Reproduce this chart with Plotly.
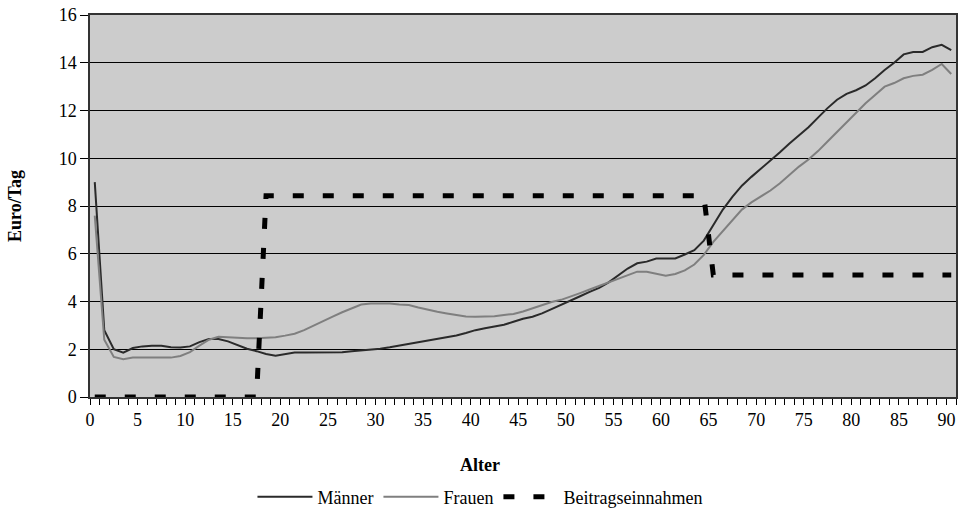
import plotly.graph_objects as go

ages = list(range(0, 91))

maenner = [9.0, 2.8, 2.0, 1.86, 2.05, 2.12, 2.15, 2.15, 2.08, 2.07,
           2.12, 2.3, 2.43, 2.43, 2.33, 2.18, 2.02, 1.92, 1.8, 1.73,
           1.8, 1.86, 1.86, 1.86, 1.86, 1.86, 1.87, 1.92, 1.95, 2.0,
           2.02, 2.08, 2.15, 2.22, 2.3, 2.37, 2.42, 2.5, 2.58, 2.68,
           2.8, 2.88, 2.95, 3.03, 3.15, 3.28, 3.36, 3.5, 3.68, 3.87,
           4.05, 4.22, 4.4, 4.57, 4.8, 5.1, 5.38, 5.6, 5.67, 5.8,
           5.8, 5.8, 5.97, 6.15, 6.55, 7.2, 7.85, 8.38, 8.85, 9.22,
           9.55, 9.88, 10.25, 10.62, 10.95, 11.3, 11.7, 12.1, 12.45, 12.7,
           12.85, 13.05, 13.35, 13.7, 14.0, 14.35, 14.45, 14.45, 14.65, 14.75,
           14.53]

frauen = [7.6, 2.4, 1.68, 1.58, 1.65, 1.65, 1.65, 1.65, 1.65, 1.72,
          1.88, 2.15, 2.4, 2.52, 2.5, 2.46, 2.46, 2.46, 2.47, 2.5,
          2.57, 2.65, 2.8, 3.0, 3.2, 3.37, 3.55, 3.72, 3.87, 3.92,
          3.93, 3.92, 3.87, 3.85, 3.75, 3.65, 3.57, 3.5, 3.43, 3.37,
          3.36, 3.36, 3.38, 3.43, 3.48, 3.58, 3.72, 3.87, 3.98, 4.07,
          4.2, 4.35, 4.5, 4.65, 4.8, 4.97, 5.12, 5.25, 5.25, 5.18,
          5.08, 5.15, 5.3, 5.55, 5.95, 6.5, 6.95, 7.4, 7.85, 8.15,
          8.4, 8.65, 8.95, 9.3, 9.65, 9.95, 10.3, 10.7, 11.1, 11.5,
          11.9, 12.3, 12.65, 13.0, 13.15, 13.35, 13.45, 13.5, 13.7, 13.95,
          13.53]

beitrag = [0, 0, 0, 0, 0, 0, 0, 0, 0, 0,
           0, 0, 0, 0, 0, 0, 0, 0, 8.43, 8.43,
           8.43, 8.43, 8.43, 8.43, 8.43, 8.43, 8.43, 8.43, 8.43, 8.43,
           8.43, 8.43, 8.43, 8.43, 8.43, 8.43, 8.43, 8.43, 8.43, 8.43,
           8.43, 8.43, 8.43, 8.43, 8.43, 8.43, 8.43, 8.43, 8.43, 8.43,
           8.43, 8.43, 8.43, 8.43, 8.43, 8.43, 8.43, 8.43, 8.43, 8.43,
           8.43, 8.43, 8.43, 8.43, 8.43, 5.11, 5.11, 5.11, 5.11, 5.11,
           5.11, 5.11, 5.11, 5.11, 5.11, 5.11, 5.11, 5.11, 5.11, 5.11,
           5.11, 5.11, 5.11, 5.11, 5.11, 5.11, 5.11, 5.11, 5.11, 5.11,
           5.11]

x_tick_vals = list(range(0, 91, 5))
y_tick_vals = [0, 2, 4, 6, 8, 10, 12, 14, 16]

# Excel category axis: each point sits in the middle of its category slot
xpos = [a + 0.5 for a in ages]

FONT = "Liberation Serif, Times New Roman, Times, DejaVu Serif, serif"

fig = go.Figure()
fig.add_trace(go.Scatter(x=xpos, y=maenner, mode="lines", name="Männer",
                         line=dict(color="#2a2a2a", width=2)))
fig.add_trace(go.Scatter(x=xpos, y=frauen, mode="lines", name="Frauen",
                         line=dict(color="#7f7f7f", width=2)))
fig.add_trace(go.Scatter(x=xpos, y=beitrag, mode="lines", name="Beitragseinnahmen",
                         line=dict(color="#000000", width=5, dash="11px,19px")))

fig.update_layout(
    width=960, height=513,
    margin=dict(l=90, r=4, t=15, b=116, autoexpand=False),
    paper_bgcolor="white",
    plot_bgcolor="#cccccc",
    font=dict(family=FONT, size=18, color="black"),
    showlegend=True,
    legend=dict(orientation="h", x=0.4503, xanchor="center", y=-0.262, yanchor="middle",
                font=dict(family=FONT, size=18, color="black"),
                bgcolor="rgba(0,0,0,0)", itemwidth=55, traceorder="normal"),
    xaxis=dict(range=[0, 91], tickvals=x_tick_vals, ticktext=[str(v) for v in x_tick_vals],
               ticks="outside", ticklen=6, tickwidth=1, tickcolor="black",
               minor=dict(dtick=1, tick0=0, ticks="outside", ticklen=6, tickwidth=1, tickcolor="black", showgrid=False),
               showgrid=False, zeroline=False, automargin=False,
               showline=True, linecolor="#333333", linewidth=1.5, mirror=True,
               tickfont=dict(family=FONT, size=18, color="black")),
    yaxis=dict(range=[0, 16], tickvals=y_tick_vals,
               ticks="outside", ticklen=8, tickwidth=1, tickcolor="black",
               showgrid=True, gridcolor="#000000", gridwidth=1.3, zeroline=False, automargin=False,
               showline=True, linecolor="#333333", linewidth=1.5, mirror=True,
               tickfont=dict(family=FONT, size=18, color="black")),
    annotations=[
        dict(text="<b>Alter</b>", xref="paper", yref="paper", x=0.4503, y=-0.178,
             xanchor="center", yanchor="middle", showarrow=False,
             font=dict(family=FONT, size=18, color="black")),
        dict(text="<b>Euro/Tag</b>", xref="paper", yref="paper", x=-0.0866, y=0.5,
             xanchor="center", yanchor="middle", textangle=-90, showarrow=False,
             font=dict(family=FONT, size=18, color="black")),
    ],
)

fig.write_html("out.html", config={"displayModeBar": False},
               post_script="document.body.style.margin='0';document.body.style.overflow='hidden';")
